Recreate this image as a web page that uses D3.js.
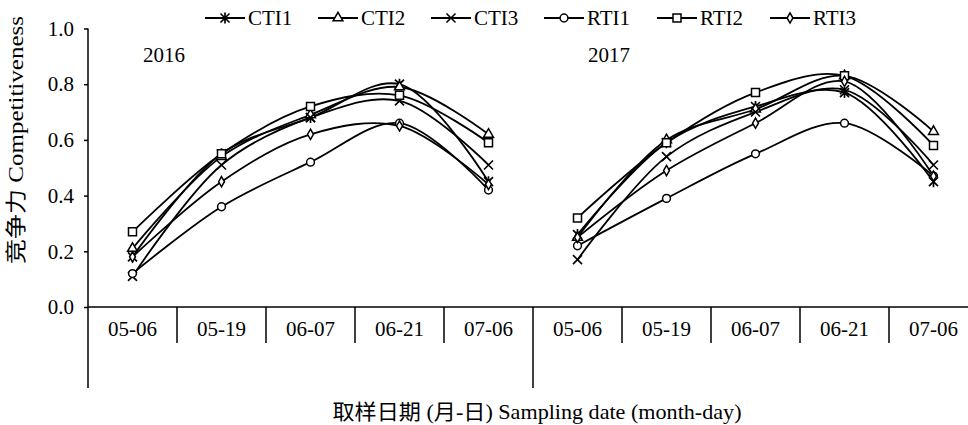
<!DOCTYPE html>
<html>
<head>
<meta charset="utf-8">
<script src="https://cdn.jsdelivr.net/npm/d3@7"></script>
<style>
  body { margin: 0; background: #fff; }
  text { font-family: "Liberation Serif", "Noto Sans CJK SC", serif; fill: #000; }
</style>
</head>
<body>
<div id="chart"></div>
<script>
// categories
var years = ["2016", "2017"];
var dates = ["05-06", "05-19", "06-07", "06-21", "07-06"];
var yTicks = [0, 0.2, 0.4, 0.6, 0.8, 1.0];
var seriesNames = ["CTI1", "CTI2", "CTI3", "RTI1", "RTI2", "RTI3"];

// values, 2016 then 2017 (5 dates each)
var CTI1 = [0.18, 0.55, 0.68, 0.80, 0.45,  0.26, 0.59, 0.72, 0.77, 0.45];
var CTI2 = [0.21, 0.54, 0.69, 0.79, 0.62,  0.25, 0.60, 0.71, 0.83, 0.63];
var CTI3 = [0.11, 0.51, 0.68, 0.74, 0.51,  0.17, 0.54, 0.70, 0.78, 0.51];
var RTI1 = [0.12, 0.36, 0.52, 0.66, 0.42,  0.22, 0.39, 0.55, 0.66, 0.47];
var RTI2 = [0.27, 0.55, 0.72, 0.76, 0.59,  0.32, 0.59, 0.77, 0.83, 0.58];
var RTI3 = [0.18, 0.45, 0.62, 0.65, 0.44,  0.25, 0.49, 0.66, 0.81, 0.47];

var seriesValues = [CTI1, CTI2, CTI3, RTI1, RTI2, RTI3];
var markerTypes = ["asterisk", "triangle", "cross", "circle", "square", "diamond"];

var width = 968, height = 425;
var plotLeft = 88, plotRight = 978, plotTop = 28.5, plotBottom = 307;

var svg = d3.select("#chart")
  .append("svg")
    .attr("width", width)
    .attr("height", height);

// category keys
var keys = [];
years.forEach(function(yr){
  dates.forEach(function(d){ keys.push(yr + "|" + d); });
});

var x = d3.scaleBand()
  .domain(keys)
  .range([plotLeft, plotRight])
  .padding(0);

var y = d3.scaleLinear()
  .domain([0, 1])
  .range([plotBottom, plotTop]);

function cx(i) { return x(keys[i]) + x.bandwidth() / 2; }

// Y axis
var yAxis = svg.append("g")
  .attr("transform", "translate(" + plotLeft + ",0)")
  .call(d3.axisLeft(y).tickValues(yTicks).tickFormat(d3.format(".1f")).tickSizeInner(4).tickSizeOuter(0).tickPadding(10));
yAxis.select(".domain").remove();
yAxis.selectAll("line").attr("stroke", "#000").attr("stroke-width", 1.5);
yAxis.selectAll("text").attr("font-size", "21px").attr("font-family", "Liberation Serif");

// left axis line (runs down through category area)
svg.append("line")
  .attr("x1", plotLeft).attr("x2", plotLeft)
  .attr("y1", plotTop).attr("y2", 388)
  .attr("stroke", "#000").attr("stroke-width", 1.5);

// X axis
var xAxis = svg.append("g")
  .attr("transform", "translate(0," + plotBottom + ")")
  .call(d3.axisBottom(x).tickSize(0).tickPadding(14).tickFormat(function(d){ return d.split("|")[1]; }));
xAxis.select(".domain").attr("stroke", "#000").attr("stroke-width", 1.5).attr("d", "M" + plotLeft + ",0H" + width);
xAxis.selectAll("text").attr("font-size", "21px").attr("font-family", "Liberation Serif");

// category dividers
svg.append("g")
  .selectAll("line")
  .data(keys.slice(1))
  .enter()
  .append("line")
    .attr("x1", function(d){ return x(d); })
    .attr("x2", function(d){ return x(d); })
    .attr("y1", plotBottom)
    .attr("y2", function(d, i){ return (i + 1) % dates.length === 0 ? 388 : 343; })
    .attr("stroke", "#000")
    .attr("stroke-width", 1.5);

// year labels
svg.append("g")
  .selectAll("text")
  .data(years)
  .enter()
  .append("text")
    .attr("x", function(d, i){ return x(keys[i * dates.length]) + 55; })
    .attr("y", 62)
    .attr("font-size", "21px")
    .text(function(d){ return d; });

// axis titles
svg.append("text")
  .attr("x", 537)
  .attr("y", 419)
  .attr("font-size", "21px")
  .attr("text-anchor", "middle")
  .attr("textLength", 409)
  .attr("lengthAdjust", "spacingAndGlyphs")
  .text("取样日期 (月-日) Sampling date (month-day)");

svg.append("text")
  .attr("transform", "translate(23,140) rotate(-90)")
  .attr("font-size", "21px")
  .attr("text-anchor", "middle")
  .attr("textLength", 248)
  .attr("lengthAdjust", "spacingAndGlyphs")
  .text("竞争力 Competitiveness");

// markers
function drawMarker(g, type, px, py) {
  var s = 4.5;
  if (type === "asterisk") {
    g.append("path")
      .attr("d", "M" + (px - s) + "," + (py - s) + "L" + (px + s) + "," + (py + s) +
                 "M" + (px - s) + "," + (py + s) + "L" + (px + s) + "," + (py - s) +
                 "M" + px + "," + (py - s - 1) + "L" + px + "," + (py + s + 1))
      .attr("stroke", "#000").attr("stroke-width", 1.7).attr("fill", "none");
  } else if (type === "cross") {
    g.append("path")
      .attr("d", "M" + (px - s) + "," + (py - s) + "L" + (px + s) + "," + (py + s) +
                 "M" + (px - s) + "," + (py + s) + "L" + (px + s) + "," + (py - s))
      .attr("stroke", "#000").attr("stroke-width", 1.6).attr("fill", "none");
  } else {
    var sym = { triangle: d3.symbolTriangle, circle: d3.symbolCircle,
                square: d3.symbolSquare, diamond: d3.symbolDiamond }[type];
    var size = { triangle: 42, circle: 48, square: 64, diamond: 30 }[type];
    g.append("path")
      .attr("d", d3.symbol().type(sym).size(size)())
      .attr("transform", "translate(" + px + "," + py + ")")
      .attr("fill", "#fff")
      .attr("stroke", "#000")
      .attr("stroke-width", 1.5);
  }
}

var line = d3.line()
  .x(function(d){ return cx(d.i); })
  .y(function(d){ return y(d.v); })
  .curve(d3.curveCatmullRom.alpha(0.5));

var plot = svg.append("g");

seriesValues.forEach(function(vals, s){
  years.forEach(function(yr, k){
    var pts = [];
    for (var j = 0; j < dates.length; j++) {
      var i = k * dates.length + j;
      pts.push({ i: i, v: vals[i] });
    }
    plot.append("path")
      .datum(pts)
      .attr("d", line)
      .attr("fill", "none")
      .attr("stroke", "#000")
      .attr("stroke-width", 1.8);
  });
});

seriesValues.forEach(function(vals, s){
  var g = plot.append("g");
  vals.forEach(function(v, i){ drawMarker(g, markerTypes[s], cx(i), y(v)); });
});

// legend
var legend = svg.append("g");
seriesNames.forEach(function(name, s){
  var lx = 205 + s * 113;
  var g = legend.append("g");
  g.append("line")
    .attr("x1", lx).attr("x2", lx + 40)
    .attr("y1", 18).attr("y2", 18)
    .attr("stroke", "#000").attr("stroke-width", 1.8);
  drawMarker(g, markerTypes[s], lx + 20, 18);
  g.append("text")
    .attr("x", lx + 43)
    .attr("y", 25)
    .attr("font-size", "21px")
    .text(name);
});
</script>
</body>
</html>
